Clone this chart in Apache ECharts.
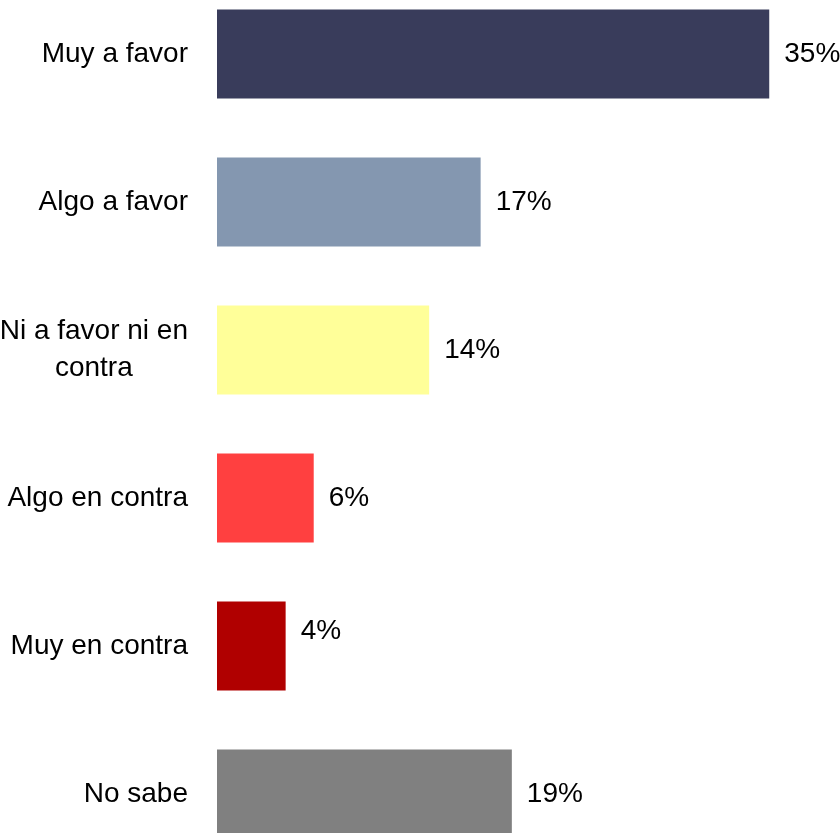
<!DOCTYPE html>
<html>
<head>
<meta charset="utf-8">
<script src="https://cdn.jsdelivr.net/npm/echarts@6/dist/echarts.min.js"></script>
<style>
html,body{margin:0;padding:0;background:#fff;}
#c{width:840px;height:833px;}
</style>
</head>
<body>
<div id="c"></div>
<script>
const categories = ['Muy a favor', 'Algo a favor', 'Ni a favor ni en\ncontra', 'Algo en contra', 'Muy en contra', 'No sabe'];
const values = [35.4, 16.9, 13.6, 6.2, 4.4, 18.9];
const valueLabels = ['35%', '17%', '14%', '6%', '4%', '19%'];
const colors = ['#393c5b', '#8497b0', '#ffff99', '#ff4040', '#b00000', '#808080'];

const FONT = '"Liberation Sans Narrow", "Arial Narrow", "Liberation Sans", Arial, sans-serif';

const chart = echarts.init(document.getElementById('c'), null, {renderer: 'canvas'});
chart.setOption({
  animation: false,
  backgroundColor: '#ffffff',
  grid: {left: 217, top: -20, width: 561.6, height: 888, containLabel: false, outerBoundsMode: 'none'},
  xAxis: {
    type: 'value', min: 0, max: 36, show: false
  },
  yAxis: {
    type: 'category', inverse: true, data: categories,
    axisLine: {show: false}, axisTick: {show: false}, splitLine: {show: false},
    axisLabel: {
      margin: 29, color: '#000', fontFamily: FONT, fontSize: 28,
      formatter: function (v) { return '{c|' + v + '}'; },
      rich: {c: {align: 'center', color: '#000', fontFamily: FONT, fontSize: 28, lineHeight: 37}}
    }
  },
  series: [{
    type: 'bar',
    barWidth: 89,
    data: values.map(function (v, i) {
      const item = {value: v, itemStyle: {color: colors[i]}};
      if (i === 4) item.label = {offset: [0, -15]};
      return item;
    }),
    label: {
      show: true, position: 'right', distance: 15,
      color: '#000', fontFamily: FONT, fontSize: 28,
      formatter: function (p) { return valueLabels[p.dataIndex]; }
    }
  }]
});
</script>
</body>
</html>
